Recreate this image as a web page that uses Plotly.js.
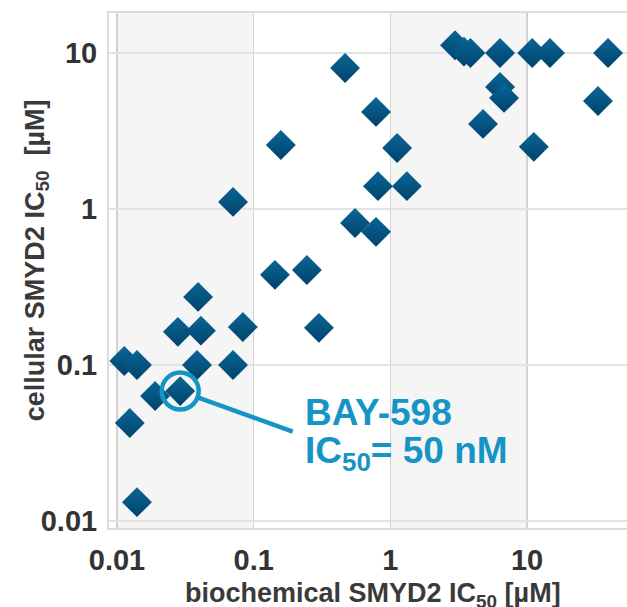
<!DOCTYPE html>
<html>
<head>
<meta charset="utf-8">
<script src="https://cdn.plot.ly/plotly-3.0.1.min.js"></script>
<style>html,body{margin:0;padding:0;background:#fff;}#chart{width:627px;height:607px;}</style>
</head>
<body>
<div id="chart"></div>
<script>
// biochemical SMYD2 IC50 [µM]
const biochemIC50 = [0.0113, 0.0140, 0.0124, 0.0140, 0.0190, 0.0279, 0.0392, 0.0411, 0.0385, 0.0706,
  0.0833, 0.0706, 0.158, 0.143, 0.245, 0.466, 0.785, 1.12, 0.811, 1.32,
  0.551, 0.785, 0.300, 2.97, 3.45, 3.85, 6.34, 10.9, 14.7, 39.1,
  6.34, 6.78, 4.76, 11.2, 33.0];
// cellular SMYD2 IC50 [µM]
const cellularIC50 = [0.106, 0.100, 0.0425, 0.0132, 0.0633, 0.163, 0.273, 0.166, 0.100, 0.100,
  0.175, 1.11, 2.57, 0.378, 0.406, 8.01, 4.19, 2.46, 1.40, 1.40,
  0.813, 0.713, 0.173, 11.2, 10.2, 10.0, 10.0, 10.0, 10.0, 10.0,
  6.05, 5.15, 3.51, 2.50, 4.92];
// highlighted compound
const bayName = "BAY-598";
const bayLabel = "IC<sub>50</sub>= 50 nM";
const bayX = [0.029];
const bayY = [0.068];
const tickVals = [0.01, 0.1, 1, 10];
const tickText = ["0.01", "0.1", "1", "10"];
const bandStarts = [0.01, 1];
const bandEnds = [0.1, 10];
const xTitle = "biochemical SMYD2 IC<sub>50</sub> [µM]";
const yTitle = "cellular SMYD2 IC<sub>50</sub>  [µM]";

const accent = '#1594c6';
const markerStyle = {
  symbol: 'diamond', size: 23, color: '#0a6597',
  gradient: {type: 'vertical', color: '#00436b'},
  line: {width: 0}
};

const traces = [
  {x: biochemIC50, y: cellularIC50, type: 'scatter', mode: 'markers', marker: markerStyle},
  {x: bayX, y: bayY, type: 'scatter', mode: 'markers', marker: markerStyle, name: bayName},
  {x: bayX, y: bayY, type: 'scatter', mode: 'markers', name: bayName + ' ring',
    marker: {symbol: 'circle-open', size: 37, color: accent, line: {color: accent, width: 4.5}}}
];

const shapes = [];
for (let i = 0; i < bandStarts.length; i++) {
  shapes.push({type: 'rect', xref: 'x', yref: 'paper', x0: bandStarts[i], x1: bandEnds[i], y0: 0, y1: 1,
    fillcolor: '#f5f5f5', line: {width: 0}, layer: 'below'});
}
shapes.push({type: 'line', xref: 'x', yref: 'paper', x0: tickVals[0], x1: tickVals[0], y0: 0, y1: 1,
  line: {color: '#aaaaaa', width: 2}, layer: 'between'});
shapes.push({type: 'line', xref: 'paper', yref: 'y', x0: 0, x1: 1, y0: tickVals[0], y1: tickVals[0],
  line: {color: '#bdbdbd', width: 2}, layer: 'between'});

const fontFam = 'Liberation Sans, Arial, sans-serif';
const tickFont = {size: 29, color: '#333333', family: fontFam, weight: 'bold'};
const titleFont = {size: 27, color: '#3a3a3a', family: fontFam, weight: 'bold'};
const layout = {
  width: 627, height: 607,
  margin: {l: 109, r: 0, t: 13, b: 79, pad: 0},
  paper_bgcolor: '#ffffff', plot_bgcolor: '#ffffff',
  showlegend: false,
  font: {family: fontFam, color: '#333333'},
  xaxis: {
    type: 'log', range: [-2.0585, 1.7308], tickvals: tickVals, ticktext: tickText,
    tickfont: tickFont,
    showgrid: true, gridcolor: '#d2d2d2', gridwidth: 1.5,
    showline: true, mirror: true, linecolor: '#dcdcdc', linewidth: 2,
    ticks: '', ticklabelstandoff: 5,
    zeroline: false, automargin: false
  },
  yaxis: {
    type: 'log', range: [-2.045, 1.256], tickvals: tickVals, ticktext: tickText,
    tickfont: tickFont,
    showgrid: true, gridcolor: '#e3e3e3', gridwidth: 1.5,
    showline: true, mirror: true, linecolor: '#dcdcdc', linewidth: 2,
    ticks: '', ticklabelstandoff: 4,
    zeroline: false, automargin: false
  },
  shapes: shapes,
  annotations: [
    {xref: 'x', yref: 'y', x: Math.log10(bayX[0]), y: Math.log10(bayY[0]), text: '', showarrow: true,
      arrowhead: 0, arrowwidth: 4.5, arrowcolor: accent, standoff: 20, ax: 114, ay: 41},
    {xref: 'paper', yref: 'paper', x: 0.3745, y: 0.2252, xanchor: 'left', yanchor: 'middle', showarrow: false,
      text: '<b>' + bayName + '</b>', font: {size: 37, color: accent, family: fontFam}},
    {xref: 'paper', yref: 'paper', x: 0.3745, y: 0.145, xanchor: 'left', yanchor: 'middle', showarrow: false,
      text: '<b>' + bayLabel + '</b>', font: {size: 37, color: accent, family: fontFam}},
    {xref: 'paper', yref: 'paper', x: 0.5097, y: -0.130, xanchor: 'center', yanchor: 'middle', showarrow: false,
      text: '<b>' + xTitle + '</b>', font: titleFont},
    {xref: 'paper', yref: 'paper', x: -0.139, y: 0.52, xanchor: 'center', yanchor: 'middle', showarrow: false,
      textangle: -90, text: '<b>' + yTitle + '</b>', font: titleFont}
  ]
};

Plotly.newPlot('chart', traces, layout, {displayModeBar: false, staticPlot: true});
</script>
</body>
</html>
